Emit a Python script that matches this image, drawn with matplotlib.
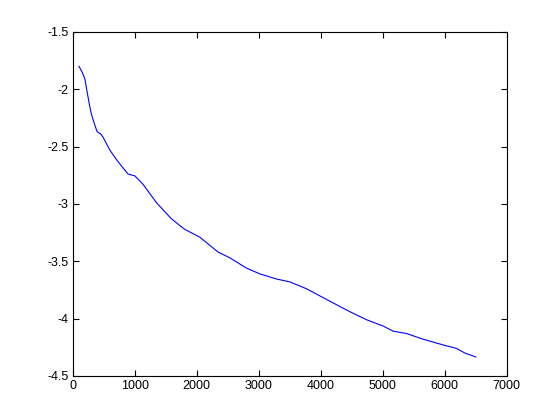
import matplotlib
matplotlib.use("Agg")
import matplotlib.pyplot as plt

steps = [100, 150, 195, 220, 250, 285, 312, 360, 392, 450, 490, 597, 700, 785,
         893, 1000, 1134, 1350, 1591, 1800, 2048, 2344, 2532, 2801, 3016, 3285,
         3500, 3769, 4081, 4468, 4737, 5005, 5166, 5382, 5650, 5973, 6188,
         6322, 6500]
values = [-1.80, -1.85, -1.91, -1.99, -2.08, -2.18, -2.24, -2.32, -2.37, -2.39,
          -2.42, -2.53, -2.61, -2.67, -2.74, -2.755, -2.83, -2.99, -3.13, -3.22,
          -3.29, -3.42, -3.47, -3.56, -3.61, -3.655, -3.68, -3.74, -3.83, -3.94,
          -4.01, -4.065, -4.11, -4.13, -4.18, -4.23, -4.26, -4.30, -4.335]

plt.rcParams['font.family'] = ['Liberation Sans', 'DejaVu Sans']

fig = plt.figure(figsize=(5.6, 4.2), dpi=100)
ax = fig.add_axes([0.13, 0.105, 0.775, 0.819])
ax.plot(steps, values, color='blue', linewidth=0.8)

ax.set_xlim(0, 7000)
ax.set_ylim(-4.5, -1.5)
ax.set_xticks(range(0, 7001, 1000))
ax.set_yticks([-4.5, -4, -3.5, -3, -2.5, -2, -1.5])
ax.set_yticklabels(['-4.5', '-4', '-3.5', '-3', '-2.5', '-2', '-1.5'])
ax.tick_params(direction='in', top=True, right=True, length=4, width=0.8,
               labelsize=9, pad=3)
for s in ax.spines.values():
    s.set_linewidth(0.8)

fig.savefig('out.png', dpi=100)
